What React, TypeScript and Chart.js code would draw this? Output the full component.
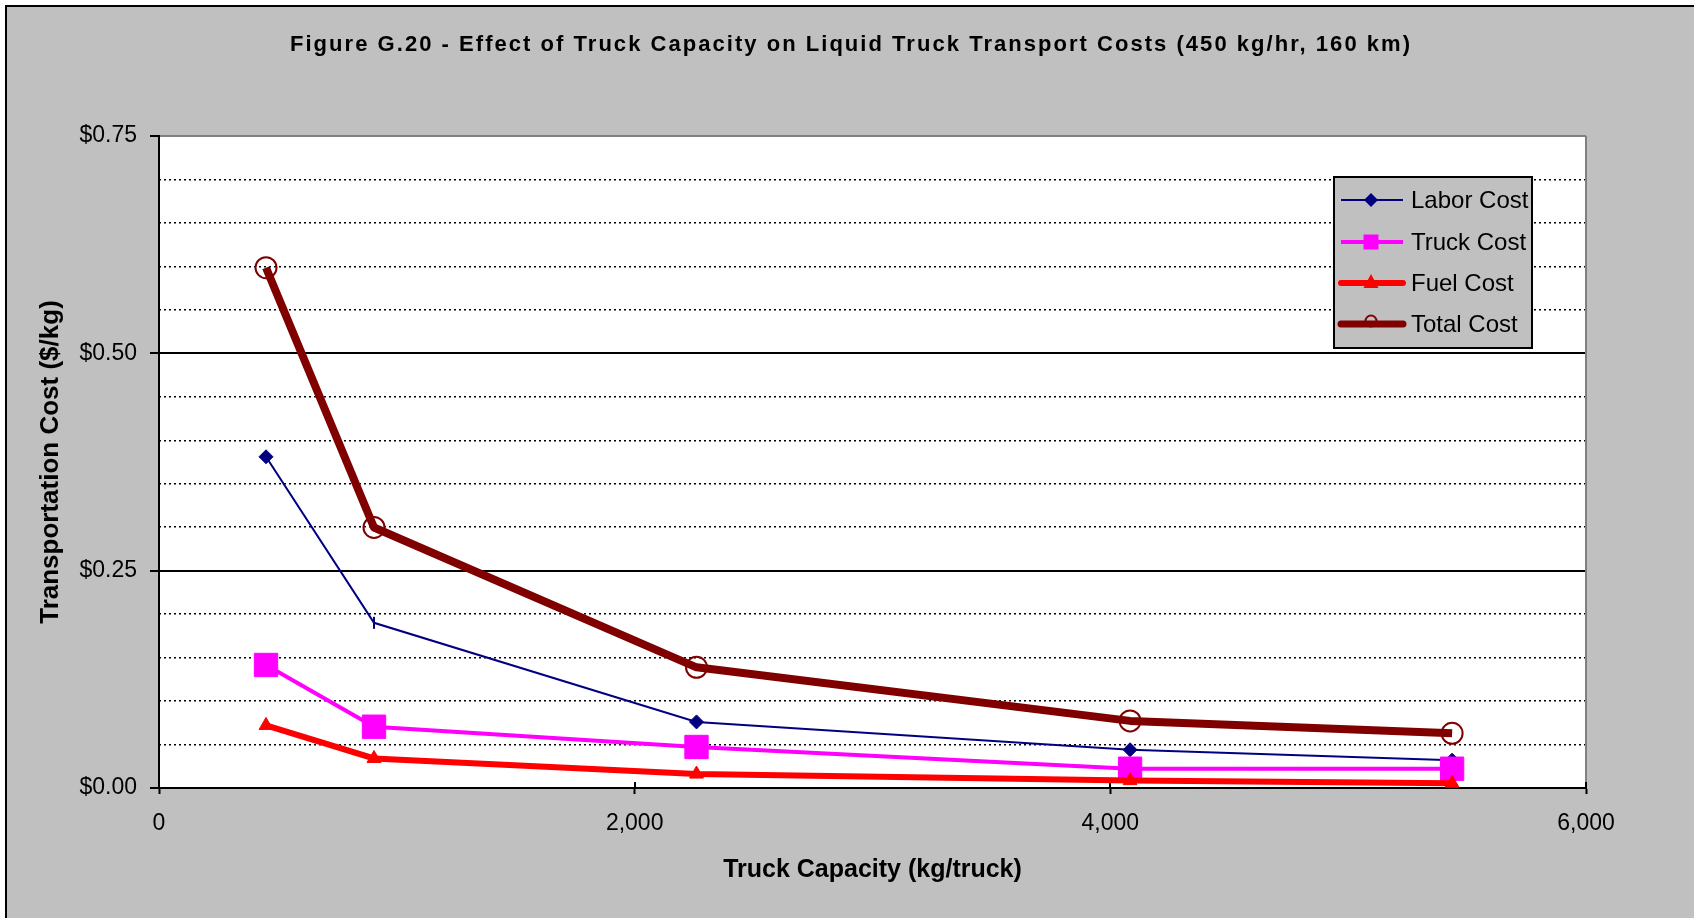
import React, { useEffect, useRef } from 'react';
import { Chart, registerables } from 'chart.js';

Chart.register(...registerables);

const capacities = [450, 904, 2260, 4083, 5437];
const laborCost = [0.381, 0.19, 0.076, 0.044, 0.032];
const truckCost = [0.1415, 0.0705, 0.0472, 0.0222, 0.0222];
const fuelCost = [0.072, 0.034, 0.016, 0.0085, 0.0055];
const totalCost = [0.5985, 0.2997, 0.1388, 0.0772, 0.0629];
const seriesNames = ['Labor Cost', 'Truck Cost', 'Fuel Cost', 'Total Cost'];
const xTickValues = [0, 2000, 4000, 6000];
const yMajorTickValues = [0, 0.25, 0.5, 0.75];
const yMinorStep = 0.05;
const chartTitle = 'Figure G.20 - Effect of Truck Capacity on Liquid Truck Transport Costs (450 kg/hr, 160 km)';
const xTitle = 'Truck Capacity (kg/truck)';
const yTitle = 'Transportation Cost ($/kg)';

const FONT = '"Liberation Sans", Arial, Helvetica, sans-serif';
const NAVY = '#000080';
const MAGENTA = '#FF00FF';
const RED = '#FF0000';
const DARKRED = '#800000';

const toPoints = (vals: number[]) => capacities.map((x, i) => ({ x, y: vals[i] }));

const backgroundPlugin = {
  id: 'bgPlugin',
  beforeDraw(chart: any) {
    const { ctx, width, height, chartArea: a } = chart;
    ctx.save();
    ctx.fillStyle = '#ffffff';
    ctx.fillRect(0, 0, width, height);
    ctx.fillStyle = '#c0c0c0';
    ctx.fillRect(5, 5, width - 5, height - 5);
    ctx.fillStyle = '#000000';
    ctx.fillRect(5, 5, 2, height - 5);
    ctx.fillRect(5, 5, width - 5, 2);
    ctx.fillStyle = '#ffffff';
    ctx.fillRect(a.left, a.top, a.right - a.left, a.bottom - a.top);
    ctx.restore();
  },
  beforeDatasetsDraw(chart: any) {
    const { ctx, chartArea: a } = chart;
    const xs = chart.scales.x;
    ctx.save();
    ctx.fillStyle = '#808080';
    ctx.fillRect(a.right - 1, a.top, 2, a.bottom - a.top);
    ctx.strokeStyle = '#000';
    ctx.lineWidth = 2;
    xTickValues.forEach((v) => {
      const px = Math.round(xs.getPixelForValue(v));
      ctx.beginPath();
      ctx.moveTo(px, a.bottom);
      ctx.lineTo(px, a.bottom - 6);
      ctx.stroke();
    });
    ctx.restore();
  },
};

const titlePlugin = {
  id: 'titlePlugin',
  afterDraw(chart: any) {
    const { ctx } = chart;
    ctx.save();
    ctx.font = `bold 22px ${FONT}`;
    ctx.fillStyle = '#000';
    ctx.textBaseline = 'middle';
    ctx.textAlign = 'left';
    (ctx as any).letterSpacing = '0px';
    const w0 = ctx.measureText(chartTitle).width;
    const target = 1120;
    const sp = (target - w0) / (chartTitle.length - 1);
    (ctx as any).letterSpacing = `${sp}px`;
    ctx.fillText(chartTitle, 850 - target / 2, 45);
    (ctx as any).letterSpacing = '0px';
    ctx.restore();
  },
};

const legendPlugin = {
  id: 'legendPlugin',
  afterDatasetsDraw(chart: any) {
    const { ctx } = chart;
    const box = { x: 1334, y: 177, w: 198, h: 171 };
    ctx.save();
    ctx.fillStyle = '#c0c0c0';
    ctx.fillRect(box.x, box.y, box.w, box.h);
    ctx.strokeStyle = '#000';
    ctx.lineWidth = 2;
    ctx.strokeRect(box.x, box.y, box.w, box.h);
    const rowY = [200, 242, 283, 324];
    const lineX0 = 1341;
    const lineX1 = 1403;
    const mx = 1371;
    const colors = [NAVY, MAGENTA, RED, DARKRED];
    const widths = [2, 4, 6, 7];
    seriesNames.forEach((name, i) => {
      const y = rowY[i];
      ctx.strokeStyle = colors[i];
      ctx.lineWidth = widths[i];
      ctx.lineCap = i >= 2 ? 'round' : 'butt';
      ctx.beginPath();
      ctx.moveTo(lineX0, y);
      ctx.lineTo(lineX1, y);
      ctx.stroke();
      ctx.fillStyle = colors[i];
      if (i === 0) {
        ctx.beginPath();
        ctx.moveTo(mx - 7, y);
        ctx.lineTo(mx, y - 7);
        ctx.lineTo(mx + 7, y);
        ctx.lineTo(mx, y + 7);
        ctx.closePath();
        ctx.fill();
      } else if (i === 1) {
        ctx.fillRect(mx - 7.5, y - 7.5, 15, 15);
      } else if (i === 2) {
        ctx.beginPath();
        ctx.moveTo(mx, y - 9);
        ctx.lineTo(mx + 7.5, y + 5);
        ctx.lineTo(mx - 7.5, y + 5);
        ctx.closePath();
        ctx.fill();
      } else {
        ctx.lineWidth = 2;
        ctx.beginPath();
        ctx.arc(mx, y - 3, 5.5, 0, Math.PI * 2);
        ctx.stroke();
      }
      ctx.fillStyle = '#000';
      ctx.font = `24px ${FONT}`;
      ctx.textBaseline = 'middle';
      ctx.textAlign = 'left';
      ctx.fillText(name, 1411, y + 1);
    });
    ctx.restore();
  },
};

const isMajor = (v: number) => Math.abs(v / 0.25 - Math.round(v / 0.25)) < 1e-6;

export default function App() {
  const canvasRef = useRef<HTMLCanvasElement | null>(null);

  useEffect(() => {
    const canvas = canvasRef.current;
    if (!canvas) return;
    const chart = new Chart(canvas, {
      type: 'line',
      data: {
        datasets: [
          {
            label: seriesNames[0],
            data: toPoints(laborCost),
            borderColor: NAVY,
            backgroundColor: NAVY,
            borderWidth: 2,
            pointStyle: ['rectRot', 'line', 'rectRot', 'rectRot', 'rectRot'] as any,
            pointRotation: [0, 90, 0, 0, 0] as any,
            pointRadius: [7, 6, 7, 7, 7] as any,
            pointBorderWidth: [1, 2, 1, 1, 1] as any,
            pointBorderColor: NAVY,
            pointBackgroundColor: NAVY,
            order: 4,
            tension: 0,
          },
          {
            label: seriesNames[1],
            data: toPoints(truckCost),
            borderColor: MAGENTA,
            backgroundColor: MAGENTA,
            borderWidth: 4,
            pointStyle: 'rect',
            pointRadius: 16.5,
            pointBorderWidth: 1,
            pointBorderColor: MAGENTA,
            pointBackgroundColor: MAGENTA,
            order: 3,
            tension: 0,
          },
          {
            label: seriesNames[2],
            data: toPoints(fuelCost),
            borderColor: RED,
            backgroundColor: RED,
            borderWidth: 6,
            pointStyle: 'triangle',
            pointRadius: 8,
            pointBorderWidth: 1,
            pointBorderColor: RED,
            pointBackgroundColor: RED,
            order: 2,
            tension: 0,
          },
          {
            label: seriesNames[3],
            data: toPoints(totalCost),
            borderColor: DARKRED,
            backgroundColor: 'rgba(0,0,0,0)',
            borderWidth: 8,
            borderJoinStyle: 'round',
            pointStyle: 'circle',
            pointRadius: 10.5,
            pointBorderWidth: 2,
            pointBorderColor: DARKRED,
            pointBackgroundColor: 'rgba(0,0,0,0)',
            order: 1,
            tension: 0,
          },
        ],
      },
      options: {
        responsive: false,
        animation: false,
        events: [],
        layout: { padding: { left: 30, top: 136, right: 108, bottom: 30 } },
        plugins: {
          legend: { display: false },
          title: { display: false },
          tooltip: { enabled: false },
        },
        scales: {
          x: {
            type: 'linear',
            position: 'bottom',
            min: 0,
            max: 6000,
            afterBuildTicks: (s: any) => {
              s.ticks = xTickValues.map((v) => ({ value: v }));
            },
            afterFit: (s: any) => {
              s.height = 100;
            },
            ticks: {
              color: '#000',
              font: { family: FONT, size: 23 },
              padding: 16,
              maxRotation: 0,
              callback: (v: any) => Number(v).toLocaleString('en-US'),
            },
            grid: {
              drawOnChartArea: false,
              drawTicks: true,
              tickLength: 6,
              tickWidth: 2,
              tickColor: '#000',
            },
            border: { display: true, color: '#000', width: 2 },
            title: {
              display: true,
              text: xTitle,
              color: '#000',
              font: { family: FONT, size: 25, weight: 'bold' },
              padding: { top: 0, bottom: 3 },
            },
          },
          y: {
            type: 'linear',
            position: 'left',
            min: 0,
            max: 0.75,
            afterBuildTicks: (s: any) => {
              s.ticks = yMajorTickValues.map((v) => ({ value: v }));
            },
            afterFit: (s: any) => {
              s.width = 129;
            },
            ticks: {
              color: '#000',
              font: { family: FONT, size: 23 },
              padding: 13,
              callback: (v: any) => '$' + Number(v).toFixed(2),
            },
            grid: {
              color: (c: any) => {
                const v = c.tick ? c.tick.value : 0;
                if (v <= 1e-9) return 'rgba(0,0,0,0)';
                if (Math.abs(v - 0.75) < 1e-9) return '#808080';
                return '#000';
              },
              lineWidth: 2,
              tickLength: 9,
              tickWidth: 2,
              tickColor: '#000',
            },
            border: { display: true, color: '#000', width: 2 },
            title: {
              display: true,
              text: yTitle,
              color: '#000',
              font: { family: FONT, size: 26, weight: 'bold' },
              padding: { top: 5, bottom: 0 },
            },
          },
          yMinor: {
            type: 'linear',
            position: 'left',
            min: 0,
            max: 0.75,
            ticks: { display: false, stepSize: yMinorStep },
            afterFit: (s: any) => {
              s.width = 0;
            },
            grid: {
              drawTicks: false,
              color: (c: any) => {
                const v = c.tick ? c.tick.value : 0;
                return isMajor(v) ? 'rgba(0,0,0,0)' : '#000';
              },
              lineWidth: 1.5,
            },
            border: { display: false, dash: [2, 3] },
          },
        },
      } as any,
      plugins: [backgroundPlugin, titlePlugin, legendPlugin],
    });
    return () => chart.destroy();
  }, []);

  return (
    <div style={{ position: 'fixed', left: 0, top: 0, width: 1694, height: 918 }}>
      <canvas ref={canvasRef} width={1694} height={918} style={{ display: 'block', width: 1694, height: 918 }} />
    </div>
  );
}
